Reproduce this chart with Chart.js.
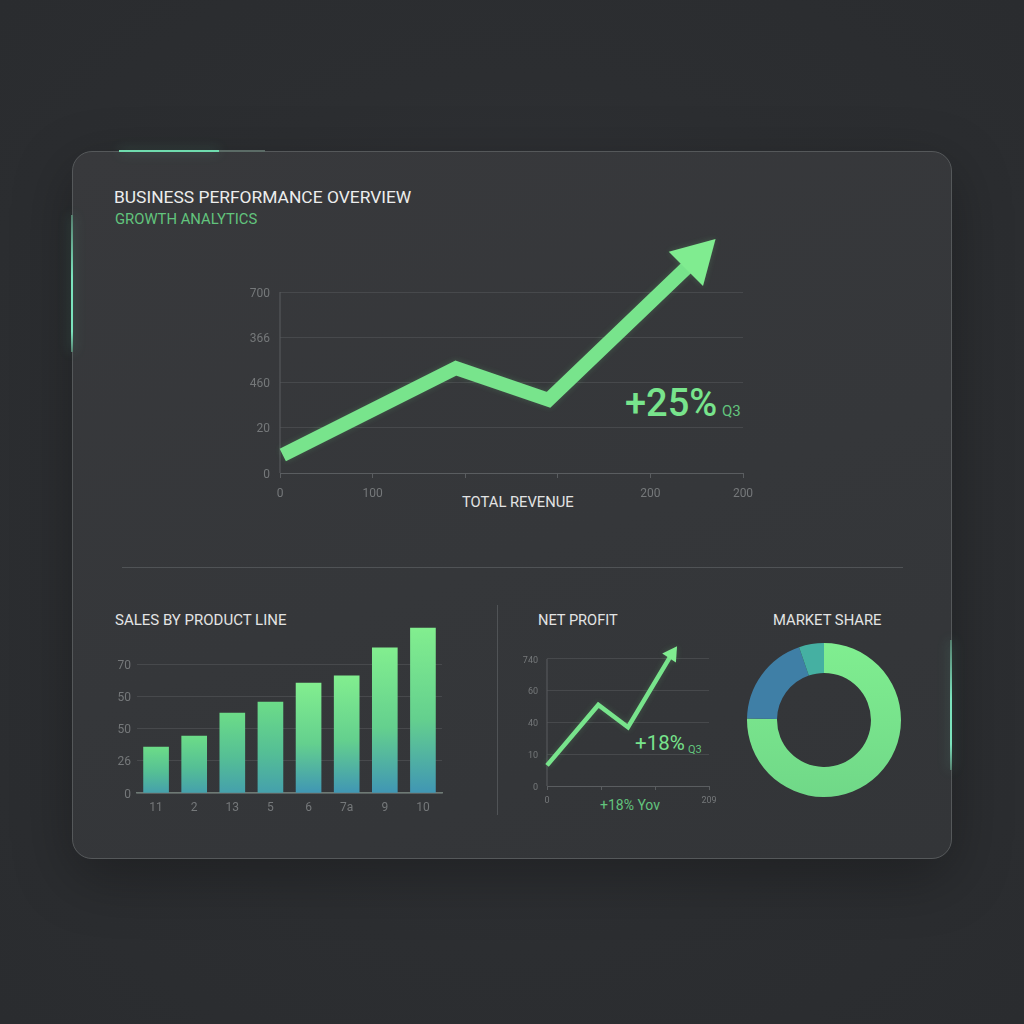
<!DOCTYPE html>
<html>
<head>
<meta charset="utf-8">
<script src="https://cdn.jsdelivr.net/npm/chart.js@4"></script>
<style>
  html, body { margin: 0; height: 100%; }
  body {
    position: relative; width: 1024px; height: 1024px; overflow: hidden;
    background: radial-gradient(ellipse at 50% 50%, #33353a 0%, #2c2e31 60%, #2a2c2f 100%);
    font-family: Roboto, sans-serif;
  }
  #card {
    position: absolute; left: 72px; top: 151px; width: 878px; height: 706px;
    border: 1.5px solid #55585a; border-radius: 20px;
    background: linear-gradient(160deg, #38393c 0%, #35373a 55%, #333538 100%);
    box-shadow: 0 18px 60px rgba(0, 0, 0, .3);
  }
  .glow { position: absolute; box-shadow: 0 0 12px rgba(111, 220, 174, .4); }
  .rule { position: absolute; background: #505356; }
  .txt { position: absolute; white-space: nowrap; line-height: 1; }
  canvas { position: absolute; }
</style>
</head>
<body>
<div id="card"></div>
<div class="glow" style="left:119px;top:150px;width:100px;height:2px;background:#6fdcae"></div>
<div class="rule" style="left:219px;top:150px;width:46px;height:2px;background:#5b6b66"></div>
<div class="glow" style="left:71px;top:215px;width:2px;height:137px;background:linear-gradient(180deg,#55806f 0%,#7be3bd 45%,#7be3bd 85%,#55806f 100%)"></div>
<div class="glow" style="left:950px;top:640px;width:2px;height:130px;background:linear-gradient(180deg,#55806f 0%,#7be3bd 45%,#7be3bd 80%,#55806f 100%)"></div>
<div class="rule" style="left:122px;top:567px;width:781px;height:1px"></div>
<div class="rule" style="left:497px;top:605px;width:1px;height:210px"></div>

<div class="txt" style="left:114px;top:189px;font-size:17.4px;color:#eceded">BUSINESS PERFORMANCE OVERVIEW</div>
<div class="txt" style="left:115px;top:212px;font-size:14.8px;color:#62c47d">GROWTH ANALYTICS</div>
<div class="txt" style="left:462px;top:495px;font-size:14.75px;color:#e3e4e4">TOTAL REVENUE</div>
<div class="txt" style="left:625px;top:384px;font-size:38px;font-weight:500;color:#78e48c">+25%</div>
<div class="txt" style="left:722px;top:404px;font-size:15px;color:#62c47d">Q3</div>
<div class="txt" style="left:115px;top:613px;font-size:15px;color:#e3e4e4">SALES BY PRODUCT LINE</div>
<div class="txt" style="left:538px;top:613px;font-size:14.6px;color:#e3e4e4">NET PROFIT</div>
<div class="txt" style="left:773px;top:613px;font-size:14.8px;color:#e3e4e4">MARKET SHARE</div>
<div class="txt" style="left:635px;top:733px;font-size:20.5px;color:#78e48c">+18%</div>
<div class="txt" style="left:688px;top:744px;font-size:11px;color:#62c47d">Q3</div>
<div class="txt" style="left:600px;top:798px;font-size:14px;color:#62c47d">+18% Yov</div>

<canvas id="revenue" style="left:240px;top:231px;width:520px;height:270px"></canvas>
<canvas id="sales" style="left:105px;top:620px;width:350px;height:200px"></canvas>
<canvas id="profit" style="left:510px;top:635px;width:215px;height:180px"></canvas>
<canvas id="share" style="left:739px;top:635px;width:170px;height:170px"></canvas>

<script>
const revenueX = [3, 190, 290, 449]
const revenueY = [70, 406, 283, 828]
const revenueYLabels = ['0', '20', '460', '366', '700']
const revenueXLabels = ['0', '100', '', '', '200', '200']

const salesCategories = ['11', '2', '13', '5', '6', '7a', '9', '10']
const salesValues = [28.5, 35.3, 49.6, 56.4, 68.2, 72.6, 90, 102.3]
const salesYLabels = ['0', '26', '50', '50', '70']

const profitX = [0, 95, 150, 231]
const profitY = [13, 51, 37, 83]
const profitYLabels = ['0', '10', '40', '60', '740']
const profitXLabels = ['0', '', '', '209']

const shareLabels = ['Green', 'Blue', 'Teal']
const shareValues = [75.3, 19.45, 5.25]

Chart.defaults.font.family = 'Roboto, sans-serif'
Chart.defaults.color = '#75787a'
Chart.defaults.animation = false
Chart.defaults.responsive = false
Chart.defaults.plugins.legend.display = false
Chart.defaults.plugins.tooltip.enabled = false

const gridColor = '#47494c'
const tickColor = '#5a5d60'

function fixedSize(prop, size) { // pins axis thickness so the plot lands where the reference has it
  return scale => {
    scale[prop] = size
    scale.paddingTop = scale.paddingBottom = scale.paddingLeft = scale.paddingRight = 0
  }
}

// soft glow round the arrows
const glowPlugin = {
  id: 'glow',
  beforeDatasetDraw(chart, args) {
    if (args.index !== 1) return
    chart.ctx.save()
    chart.ctx.shadowColor = 'rgba(120, 228, 140, .2)'
    chart.ctx.shadowBlur = 6
  },
  afterDatasetDraw(chart, args) {
    if (args.index === 1) chart.ctx.restore()
  }
}

function lineChart(id, cfg) {
  const last = cfg.x.length - 1
  const step = cfg.yTop / (cfg.yLabels.length - 1)
  new Chart(document.getElementById(id), {
    type: 'scatter',
    plugins: [glowPlugin],
    data: {
      datasets: [{
        // y axis line, stops at the top gridline while the arrow carries on above it
        data: [{ x: 0, y: 0 }, { x: 0, y: cfg.yTop }],
        showLine: true,
        clip: false,
        borderColor: tickColor,
        borderWidth: 1,
        pointRadius: 0,
        order: 2
      }, {
        data: cfg.x.map((x, i) => ({ x, y: cfg.y[i] })),
        showLine: true,
        clip: false,
        borderColor: '#78e48c',
        backgroundColor: '#80ec90',
        borderWidth: cfg.lineWidth,
        borderJoinStyle: 'miter',
        borderCapStyle: 'butt',
        pointStyle: 'triangle',
        pointRadius: ctx => ctx.dataIndex === last ? cfg.headSize : 0,
        pointRotation: cfg.headAngle,
        pointBorderWidth: 0,
        order: 1
      }]
    },
    options: {
      layout: { autoPadding: false, padding: cfg.padding },
      scales: {
        x: {
          type: 'linear', min: 0, max: cfg.xMax,
          afterFit: fixedSize('height', cfg.xAxisSize),
          grid: { drawOnChartArea: false, tickLength: cfg.tickLength, tickColor: tickColor },
          border: { color: tickColor },
          ticks: {
            stepSize: cfg.xMax / (cfg.xLabels.length - 1),
            maxRotation: 0,
            padding: cfg.tickPadding,
            font: { size: cfg.fontSize },
            callback: (v, i) => cfg.xLabels[i]
          }
        },
        y: {
          min: 0, max: cfg.yMax,
          afterFit: fixedSize('width', cfg.yAxisSize),
          afterBuildTicks: scale => {
            scale.ticks = cfg.yLabels.map((_, i) => ({ value: i * step }))
          },
          grid: { color: gridColor, drawTicks: false },
          border: { display: false },
          ticks: {
            padding: cfg.yPadding,
            labelOffset: 1.5,
            font: { size: cfg.fontSize },
            callback: (v, i) => cfg.yLabels[i]
          }
        }
      }
    }
  })
}

lineChart('revenue', {
  x: revenueX, y: revenueY, xLabels: revenueXLabels, yLabels: revenueYLabels,
  xMax: 500, yTop: 700, yMax: 936, lineWidth: 14, headSize: 28, headAngle: 45,
  padding: { right: 17 }, xAxisSize: 28, yAxisSize: 40,
  tickLength: 5, tickPadding: 9, yPadding: 10, fontSize: 12
})

lineChart('profit', {
  x: profitX, y: profitY, xLabels: profitXLabels, yLabels: profitYLabels,
  xMax: 300, yTop: 80, yMax: 95, lineWidth: 4.5, headSize: 9.5, headAngle: 34,
  padding: { right: 16 }, xAxisSize: 29, yAxisSize: 37,
  tickLength: 4, tickPadding: 5, yPadding: 9, fontSize: 9
})

new Chart(document.getElementById('sales'), {
  type: 'bar',
  data: {
    labels: salesCategories,
    datasets: [{
      data: salesValues,
      barThickness: 25,
      backgroundColor: ctx => { // each bar fades from green at its top to blue at the baseline
        const { chart, raw } = ctx
        if (!chart.chartArea || raw === undefined) return '#6fdc8b'
        const y = chart.scales.y
        const top = y.getPixelForValue(raw)
        const frac = raw / salesValues[salesValues.length - 1]
        const g = chart.ctx.createLinearGradient(0, top, 0, y.getPixelForValue(0))
        g.addColorStop(0, frac > 0.6 ? '#82ee8f' : '#6cdc88')
        g.addColorStop(0.55, frac > 0.6 ? '#64d08e' : '#55bf95')
        g.addColorStop(1, frac > 0.6 ? '#4096b4' : '#45a0ac')
        return g
      }
    }]
  },
  options: {
    layout: { autoPadding: false, padding: { right: 13 } },
    scales: {
      x: {
        afterFit: fixedSize('height', 27),
        grid: { display: false },
        border: { color: '#6e7a75', width: 1.5 },
        ticks: { padding: 0, maxRotation: 0, font: { size: 12 } }
      },
      y: {
        min: 0, max: 107.3, // headroom above the top gridline for the tallest bar
        afterFit: fixedSize('width', 32),
        afterBuildTicks: scale => {
          scale.ticks = salesYLabels.map((_, i) => ({ value: i * 20 }))
        },
        grid: { color: gridColor, drawTicks: false },
        border: { display: false },
        ticks: {
          padding: 6,
          labelOffset: 1.5,
          font: { size: 12 },
          callback: v => salesYLabels[v / 20]
        }
      }
    }
  }
})

new Chart(document.getElementById('share'), {
  type: 'doughnut',
  data: {
    labels: shareLabels,
    datasets: [{
      data: shareValues,
      backgroundColor: ctx => {
        const { chart, dataIndex } = ctx
        if (dataIndex !== 0) return ['', '#3f7fa6', '#45b0a2'][dataIndex]
        const g = chart.ctx.createLinearGradient(0, 8, 0, 162)
        g.addColorStop(0, '#80ee90')
        g.addColorStop(1, '#70d888')
        return g
      },
      borderWidth: 0
    }]
  },
  options: {
    cutout: '61%',
    layout: { padding: 8 }
  }
})
</script>
</body>
</html>
